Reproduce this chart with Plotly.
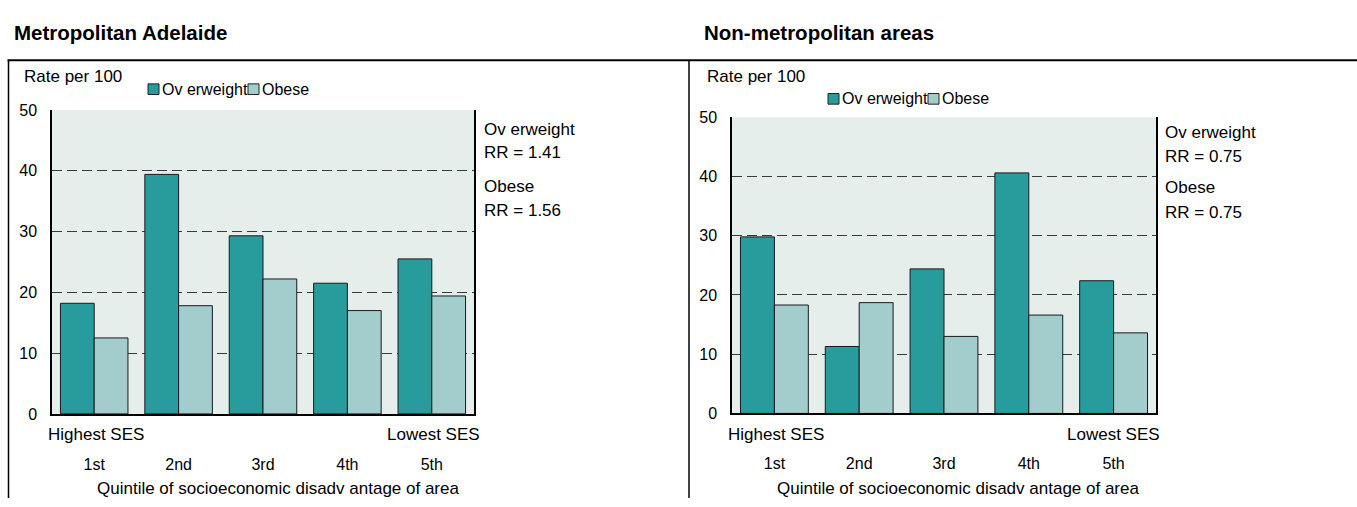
import plotly.graph_objects as go

W, H = 1357, 507

quintiles = ["1st", "2nd", "3rd", "4th", "5th"]
metro_overweight = [18.2, 39.4, 29.3, 21.5, 25.5]
metro_obese = [12.5, 17.8, 22.2, 17.0, 19.4]
nonmetro_overweight = [29.8, 11.3, 24.4, 40.6, 22.4]
nonmetro_obese = [18.3, 18.7, 13.0, 16.6, 13.6]
series_names = ["Ov erweight", "Obese"]
panel_titles = ["Metropolitan Adelaide", "Non-metropolitan areas"]
rr_texts = [["Ov erweight", "RR = 1.41", "Obese", "RR = 1.56"],
            ["Ov erweight", "RR = 0.75", "Obese", "RR = 0.75"]]
y_ticks = [0, 10, 20, 30, 40, 50]

C_OW = "#289b9c"
C_OB = "#a3cdcc"
BG = "#e5eeeb"
FONT = "Liberation Sans"
TXT = 17


def px(x):
    return x / W


def py(y):
    return 1 - y / H


fig = go.Figure()

panels = [
    dict(x0=52, x1=474, y0=105.5, y1=420, ow=metro_overweight, ob=metro_obese,
         xa="x", ya="y"),
    dict(x0=732, x1=1156, y0=113, y1=419.5, ow=nonmetro_overweight, ob=nonmetro_obese,
         xa="x2", ya="y2"),
]

for p in panels:
    fig.add_trace(go.Bar(x=quintiles, y=p["ow"], name=series_names[0], marker_color=C_OW,
                         marker_line=dict(color="#1a1a1a", width=1), showlegend=False,
                         xaxis=p["xa"], yaxis=p["ya"]))
    fig.add_trace(go.Bar(x=quintiles, y=p["ob"], name=series_names[1], marker_color=C_OB,
                         marker_line=dict(color="#1a1a1a", width=1), showlegend=False,
                         xaxis=p["xa"], yaxis=p["ya"]))

axis_common_x = dict(type="category", showline=True, linecolor="black", linewidth=1.5,
                     showgrid=False, ticks="", tickfont=dict(family=FONT, size=16, color="black"),
                     ticklabelstandoff=35, fixedrange=True)
axis_common_y = dict(range=[0, 50], tickvals=y_ticks, showline=True, mirror=True,
                     linecolor="black", linewidth=1.5, showgrid=True, gridcolor="#3a3a3a",
                     griddash="10px,5px", gridwidth=1, zeroline=False, ticks="",
                     ticklabelstandoff=10, tickfont=dict(family=FONT, size=16, color="black"),
                     fixedrange=True)

fig.update_layout(
    width=W, height=H, margin=dict(l=0, r=0, t=0, b=0),
    paper_bgcolor="white", plot_bgcolor=BG,
    barmode="group", bargap=0.2, bargroupgap=0.0,
    font=dict(family=FONT, size=TXT, color="black"),
    showlegend=False,
    xaxis=dict(domain=[px(panels[0]["x0"]), px(panels[0]["x1"])], anchor="y", **axis_common_x),
    yaxis=dict(domain=[py(panels[0]["y1"]), py(panels[0]["y0"])], anchor="x", **axis_common_y),
    xaxis2=dict(domain=[px(panels[1]["x0"]), px(panels[1]["x1"])], anchor="y2", **axis_common_x),
    yaxis2=dict(domain=[py(panels[1]["y1"]), py(panels[1]["y0"])], anchor="x2", **axis_common_y),
)

ann = []
shapes = []
# panel titles
for t, xt in zip(panel_titles, [12, 702]):
    ann.append(dict(text="<b>" + t + "</b>", x=px(xt), y=py(25), xanchor="left",
                    yanchor="middle", font=dict(family=FONT, size=20.5, color="black")))
# y labels
for xt in [22, 705]:
    ann.append(dict(text="Rate per 100", x=px(xt), y=py(71), xanchor="left", yanchor="middle"))
# legends (swatch + label)
for xoff, yl in [(0, 84), (680, 94)]:
    for sx, col, name in [(148, C_OW, series_names[0]), (248, C_OB, series_names[1])]:
        shapes.append(dict(type="rect", x0=px(xoff + sx), x1=px(xoff + sx + 11),
                           y0=py(yl + 5.5), y1=py(yl - 5.5), fillcolor=col,
                           line=dict(color="#222", width=1)))
        ann.append(dict(text=name, x=px(xoff + sx + 12), y=py(yl), xanchor="left",
                        yanchor="middle", font=dict(family=FONT, size=16, color="black")))
# SES labels and axis titles
for (xl, xr), p in zip([(46, 482), (726, 1162)], panels):
    ann.append(dict(text="Highest SES", x=px(xl), y=py(441), xanchor="left", yanchor="middle"))
    ann.append(dict(text="Lowest SES", x=px(xr), y=py(441), xanchor="right", yanchor="middle"))
    ann.append(dict(text="Quintile of socioeconomic disadv antage of area",
                    x=px(xl + 232), y=py(497), xanchor="center", yanchor="middle"))
# RR texts
for (xt, ys), texts in zip([(482, [126, 149, 185, 210]), (1163, [129, 154, 186, 212])], rr_texts):
    for yy, t in zip(ys, texts):
        ann.append(dict(text=t, x=px(xt), y=py(yy), xanchor="left", yanchor="middle"))

for a in ann:
    a.update(xref="paper", yref="paper", showarrow=False)
    a.setdefault("font", dict(family=FONT, size=TXT, color="black"))
fig.update_layout(annotations=ann)

# frame lines
shapes += [
    dict(type="line", x0=px(7.5), x1=1, y0=py(54), y1=py(54), line=dict(color="black", width=2)),
    dict(type="line", x0=px(8.5), x1=px(8.5), y0=py(54), y1=0, line=dict(color="black", width=1.5)),
    dict(type="line", x0=px(689), x1=px(689), y0=py(54), y1=0, line=dict(color="black", width=1.5)),
]
for s in shapes:
    s.update(xref="paper", yref="paper")
fig.update_layout(shapes=shapes)

fig.write_html("out.html", config={"displayModeBar": False},
               post_script="document.body.style.margin='0px';")
